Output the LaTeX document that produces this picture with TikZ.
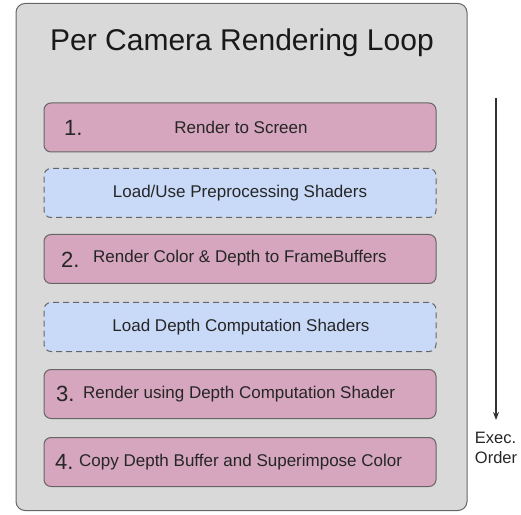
\documentclass[tikz,border=0pt]{standalone}
\usepackage{fontspec}
\setmainfont{Liberation Sans}
\usetikzlibrary{arrows.meta}
\definecolor{pinkf}{HTML}{D5A6BD}
\definecolor{bluef}{HTML}{C9DAF8}
\definecolor{outerf}{HTML}{D9D9D9}
\definecolor{edge}{HTML}{666666}
\tikzset{
  stepbox/.style={draw=edge, line width=1pt, fill=pinkf, rounded corners=7pt, minimum width=392pt, minimum height=49pt, inner sep=0pt},
  loadbox/.style={stepbox, fill=bluef, dash pattern=on 6pt off 4pt},
  txt/.style={font=\fontsize{17}{20}\selectfont, text=black!85, inner sep=0pt},
  num/.style={font=\fontsize{22}{24}\selectfont, text=black!85, inner sep=0pt, anchor=west},
}
\begin{document}
\begin{tikzpicture}[x=1pt,y=1pt]
\useasboundingbox (0,0) rectangle (521,514);
\node[draw=edge, line width=1pt, fill=outerf, rounded corners=9pt, minimum width=451pt, minimum height=507pt, inner sep=0pt] (outer) at (241.5,257) {};
\node[font=\fontsize{30}{34}\selectfont, text=black!90, inner sep=0pt] (title) at (242,471) {Per Camera Rendering Loop};

\node[stepbox] (b1) at (240,386.5) {};
\node[num] (n1) at (64,386.5) {1.};
\node[txt] (t1) at (241,386.5) {Render to Screen};

\node[loadbox] (b2) at (240,321) {};
\node[txt] (t2) at (240,321) {Load/Use Preprocessing Shaders};

\node[stepbox] (b3) at (240,255) {};
\node[num] (n3) at (61,254) {2.};
\node[txt, anchor=west] (t3) at (93,255.5) {Render Color \& Depth to FrameBuffers};

\node[loadbox] (b4) at (240,187) {};
\node[txt] (t4) at (241,187) {Load Depth Computation Shaders};

\node[stepbox] (b5) at (240,120) {};
\node[num] (n5) at (56,120.5) {3.};
\node[txt, anchor=west] (t5) at (83,119.5) {Render using Depth Computation Shader};

\node[stepbox] (b6) at (240,52) {};
\node[num] (n6) at (55,52.5) {4.};
\node[txt, anchor=west] (t6) at (79,51.5) {Copy Depth Buffer and Superimpose Color};

\coordinate (atop) at (496,416);
\coordinate (abot) at (496,94);
\draw[line width=1.2pt, black!80, -{Stealth[length=8pt,width=6pt]}] (atop) -- (abot);
\node[font=\fontsize{16.5}{20}\selectfont, align=left, text=black!85, inner sep=0pt] (order) at (496,66) {Exec.\\Order};
\end{tikzpicture}
\end{document}
